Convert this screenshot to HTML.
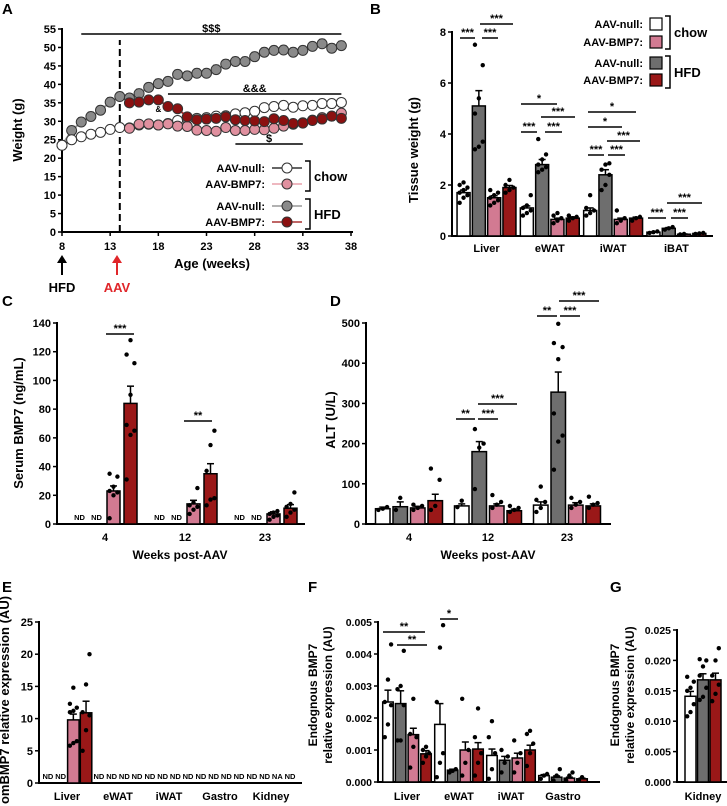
<!DOCTYPE html>
<html><head><meta charset="utf-8"><style>
body{margin:0;background:#fff;}
svg{display:block;font-family:"Liberation Sans",Arial,sans-serif;font-weight:bold;}
</style></head><body>
<svg id="fig" width="727" height="806" viewBox="0 0 727 806"></svg>
<script>
// ===== Panel A data =====
const weeksA = [8,9,10,11,12,13,14,15,16,17,18,19,20,21,22,23,24,25,26,27,28,29,30,31,32,33,34,35,36,37];
const chowNullA = [23.5,25,25.8,26.5,27,27.8,28.3,28.2,29,29.2,29,29.4,30.2,30.7,30.8,31,31.4,31.5,32,32.3,32.7,33.7,34,34.3,33.8,34.2,34.3,34.8,34.8,35.1];
const hfdNullA = [23.5,27.5,29.8,31.3,33,35.2,36.7,36.3,37.5,39.2,40.2,40.8,42.7,42.3,43,43,44,45.5,46.2,46.2,47.5,48.7,49.2,49.3,48.7,49.2,50.3,51,49.8,50.5];
const weeksAAV = [15,16,17,18,19,20,21,22,23,24,25,26,27,28,29,30,31,32,33,34,35,36,37];
const chowBmpA = [28.1,29.2,29.3,29,29.3,28.7,28.6,27.6,27.5,27.3,28.3,27.5,27.5,27.8,27.7,28.1,28.7,29.2,29.6,30.3,31,31.4,32.2];
const hfdBmpA = [35,35.2,35.8,35.8,34,33.4,31.2,30.4,30.6,30.8,31.2,30.4,30.2,30.1,29.9,30.7,30.2,29.4,29.5,30.2,30.6,31.4,30.8];
const yTicksA = [0,5,10,15,20,25,30,35,40,45,50,55];
const xTicksA = [8,13,18,23,28,33,38];
// ===== Panel B data =====
const tissuesB = ["Liver","eWAT","iWAT","iBAT"];
const meansB = [[1.7,5.1,1.5,1.9],[1.1,2.8,0.65,0.7],[1.0,2.4,0.65,0.7],[0.15,0.3,0.07,0.1]];
const errB = [[0.1,0.6,0.08,0.08],[0.08,0.2,0.05,0.05],[0.1,0.2,0.05,0.04],[0.01,0.03,0.01,0.01]];
const dotsB = [[[1.3,1.5,1.6,1.7,1.8,1.9,2.0,2.1],[3.4,3.5,3.7,4.8,5.4,6.7,7.5],[1.2,1.3,1.4,1.5,1.6,1.7,1.8],[1.7,1.8,1.9,2.0,2.2]],
 [[0.8,0.9,1.0,1.1,1.2,1.6],[2.5,2.6,2.7,2.8,3.0,3.2,3.8],[0.5,0.6,0.7,0.8,0.9],[0.6,0.7,0.75,0.8]],
 [[0.8,0.9,1.0,1.1,1.6],[1.8,2.0,2.4,2.6,2.8,2.85],[0.5,0.6,0.7,1.0],[0.6,0.7,0.75]],
 [[0.12,0.15,0.18],[0.25,0.3,0.35],[0.06,0.08],[0.08,0.1,0.12]]];
const yTicksB = [0,2,4,6,8];
// ===== Panel C data =====
const weeksC = ["4","12","23"];
const meansC = [["ND","ND",23,84],["ND","ND",14,35],["ND","ND",7,11]];
const errC = [[0,0,3.5,12],[0,0,2.5,7],[0,0,1.5,2.5]];
const dotsC = [[[],[],[4,20,22,23,26,33,35],[31,62,65,69,90,112,118,128]],
 [[],[],[7,10,12,13,15,25],[13,17,18,37,55,65]],
 [[],[],[3,5,6,7,8,9],[5,8,10,12,14,22]]];
const yTicksC = [0,20,40,60,80,100,120,140];
// ===== Panel D data =====
const weeksD = ["4","12","23"];
const meansD = [[38,43,40,58],[45,180,45,33],[47,328,47,45]];
const errD = [[4,12,4,16],[5,25,5,4],[8,50,6,5]];
const dotsD = [[[35,38,42],[35,65],[35,40,45,48],[35,45,110,138]],
 [[42,58],[87,190,200,236],[40,48,55,72],[30,35,40,45]],
 [[30,40,55,60,93],[135,205,220,275,410,440,450,498],[40,48,55,65],[40,48,52,68]]];
const yTicksD = [0,100,200,300,400,500];
// ===== Panel E data =====
const tissuesE = ["Liver","eWAT","iWAT","Gastro","Kidney"];
const meansE = [["ND","ND",9.8,10.9],["ND","ND","ND","ND"],["ND","ND","ND","ND"],["ND","ND","ND","ND"],["ND","ND","NA","ND"]];
const errE = [[0,0,0.9,1.8],[0,0,0,0],[0,0,0,0],[0,0,0,0],[0,0,0,0]];
const dotsE = [[[],[],[5.8,6.2,6.5,11,11.2,11.7,12.3,14.8],[5,8.2,10.5,11,15.3,20]],[[],[],[],[]],[[],[],[],[]],[[],[],[],[]],[[],[],[],[]]];
const yTicksE = [0,5,10,15,20,25];
// ===== Panel F data =====
const tissuesF = ["Liver","eWAT","iWAT","Gastro"];
const meansF = [[0.0025,0.00245,0.00148,0.00088],[0.0018,0.00037,0.001,0.00103],[0.00083,0.00068,0.00075,0.001],[0.0002,0.00015,0.00012,0.0001]];
const errF = [[0.00037,0.0004,0.0002,0.0001],[0.00065,0.00003,0.00025,0.0002],[0.0002,0.00012,0.00015,0.00015],[0.00003,0.00004,0.00003,0.00002]];
const dotsF = [[[0.0014,0.0018,0.0024,0.0025,0.0032,0.0043],[0.0013,0.0013,0.0024,0.0029,0.003,0.0041],[0.00045,0.0011,0.0014,0.0015,0.0026],[0.0006,0.0008,0.0009,0.001,0.0011]],
 [[0.00015,0.0006,0.0009,0.0025,0.0042,0.0049],[0.0003,0.00035,0.0004],[0.0002,0.0006,0.001,0.0026],[0.0002,0.0006,0.0009,0.0014,0.0023]],
 [[0.0001,0.0004,0.0009,0.0014,0.0019],[0.0003,0.0006,0.0008,0.001],[0.0003,0.0006,0.0009,0.0013],[0.0005,0.0009,0.0012,0.0015,0.0016]],
 [[0.0001,0.0002,0.00025],[0.00005,0.0002,0.0004],[0.00005,0.0002,0.0003],[0.00005,0.00015]]];
const yTicksF = [0,0.001,0.002,0.003,0.004,0.005];
// ===== Panel G data =====
const tissuesG = ["Kidney"];
const meansG = [[0.0141,0.0168,0.0168]];
const errG = [[0.0008,0.001,0.0011]];
const dotsG = [[[0.0108,0.0115,0.0128,0.015,0.0155,0.0165,0.0173],[0.0135,0.014,0.0155,0.0175,0.019,0.02,0.0202],[0.0133,0.0145,0.016,0.0175,0.02,0.022]]];
const yTicksG = [0,0.005,0.010,0.015,0.020,0.025];

const NS="http://www.w3.org/2000/svg";
const svg=document.getElementById('fig');
function mk(tag,parent){const e=document.createElementNS(NS,tag);(parent||svg).appendChild(e);return e;}
function setA(e,o){for(const k in o)e.setAttribute(k,o[k]);return e;}
function line(x1,y1,x2,y2,stroke,w,name,parent){const e=mk('line',parent);setA(e,{x1:x1,y1:y1,x2:x2,y2:y2,stroke:stroke,'stroke-width':w});


return e;}
function text(x,y,s,size,anchor,name,fill,parent){const e=mk('text',parent);setA(e,{x:x,y:y,'font-size':size,'text-anchor':anchor||'middle',fill:fill||'#000'});e.textContent=s;


return e;}
function vtext(x,y,s,size,name){const e=text(x,y,s,size,'middle',name);e.setAttribute('transform','rotate(-90 '+x+' '+y+')');return e;}
const COLS=['#ffffff','#6e6e6e','#d27a92','#9a1818'];

function barPanel(P){
  const g=mk('g');
  
  
  const ys=v=>P.y0-(v/P.ymax)*(P.y0-P.yTop);
  line(P.ax,P.yTop-1,P.ax,P.y0+1,'#000',2,'y-axis',g);
  line(P.ax,P.y0,P.xEnd,P.y0,'#000',2,'x-axis',g);
  P.yticks.forEach((t,i)=>{const y=ys(t);line(P.ax-4,y,P.ax,y,'#000',1.5,'y-tick',g);
    text(P.ax-6,y+4,P.tickLabels?P.tickLabels[i]:String(t),P.fs||11,'end','y-tick-label','#000',g);});
  P.cats.forEach((c,gi)=>{
    const cx=P.c0+gi*P.cStep;
    text(cx,P.labY,c,P.catFs||11,'middle','category-label','#000',g);
    P.means[gi].forEach((m,bi)=>{
      const col=P.cols[bi];
      const left=cx-(P.nb*P.step-(P.step-P.bw))/2+bi*P.step;
      const bc=left+P.bw/2;
      if(typeof m==='string'){text(bc,P.y0-4,m,7.5,'middle','nd-label','#000',g);return;}
      const y=ys(m);
      const e=P.errs[gi][bi];
      line(bc,y,bc,ys(m+e),'#000',1.5,'error-bar',g);
      line(bc-3.5,ys(m+e),bc+3.5,ys(m+e),'#000',1.5,'error-cap',g);
      const r=mk('rect',g);setA(r,{x:left,y:y,width:P.bw,height:P.y0-y,fill:col,stroke:'#000','stroke-width':1.5});
      
      
      const ds=P.dots[gi][bi];
      ds.forEach((d,di)=>{const o=((di%3)-1)*P.bw*0.3;const ci=mk('circle',g);setA(ci,{cx:bc+o,cy:ys(d),r:2.2,fill:'#000'});
        
        });
    });
  });
}
function sig(x1,x2,y,s,name){line(x1,y,x2,y,'#000',1.5,name+'-line');text((x1+x2)/2,y-2,s,11,'middle',name+'-label');}
function letter(x,y,s){text(x,y,s,15,'start','panel-label-'+s);}

// ===== Panel A =====
letter(2,14,'A');
(function(){
  const ax=62,x1=351,y0=232,yT=29;
  const xs=w=>ax+(w-8)/30*(x1-ax), ys=v=>y0-v/55*(y0-yT);
  line(ax,yT-1,ax,y0+1,'#000',2,'y-axis');line(ax,y0,x1+2,y0,'#000',2,'x-axis');
  yTicksA.forEach(t=>{line(ax-4,ys(t),ax,ys(t),'#000',1.5,'y-tick');text(ax-6,ys(t)+4,String(t),11,'end','y-tick-label');});
  xTicksA.forEach(t=>{line(xs(t),y0,xs(t),y0+4,'#000',1.5,'x-tick');text(xs(t),y0+18,String(t),11,'middle','x-tick-label');});
  vtext(22,130,'Weight (g)',13,'y-axis-title');
  text(212,268,'Age (weeks)',13,'middle','x-axis-title');
  const dl=line(xs(14),y0,xs(14),40,'#000',2,'aav-dashed-line');dl.setAttribute('stroke-dasharray','7,4');
  sig(xs(10),xs(37),34,'$$$','sig-hfd');sig(xs(19),xs(37),94,'&&&','sig-amp');sig(xs(26),xs(33),144,'$','sig-dollar');
  text(xs(18),112,'&',8,'middle','sig-amp-small');text(xs(32),125,'$',8,'middle','sig-d1');text(xs(33),125,'$',8,'middle','sig-d2');
  function series(wk,vals,fill,lc,err,name){
    const pts=wk.map((w,i)=>xs(w)+','+ys(vals[i])).join(' ');
    const pl=mk('polyline');setA(pl,{points:pts,fill:'none',stroke:lc,'stroke-width':2});
    
    
    wk.forEach((w,i)=>{line(xs(w),ys(vals[i]),xs(w),ys(vals[i]+err),'#555',1,name+'-err');line(xs(w)-3,ys(vals[i]+err),xs(w)+3,ys(vals[i]+err),'#555',1,name+'-err-cap');});
    wk.forEach((w,i)=>{const c=mk('circle');setA(c,{cx:xs(w),cy:ys(vals[i]),r:5,fill:fill,stroke:'#333','stroke-width':1});
      
      });
  }
  series(weeksA,hfdNullA,'#8a8a8a','#999',1.2,'hfd-null');
  series(weeksA,chowNullA,'#fff','#333',0.7,'chow-null');
  series(weeksAAV,chowBmpA,'#e0909f','#e8a0ac',0.6,'chow-bmp7');
  series(weeksAAV,hfdBmpA,'#8b1010','#a33',0.8,'hfd-bmp7');
  // legend
  const L=[['AAV-null:','#fff','#333',168],['AAV-BMP7:','#e0909f','#e8a0ac',184],['AAV-null:','#8a8a8a','#999',206],['AAV-BMP7:','#8b1010','#a33',222]];
  L.forEach(l=>{text(265,l[3]+4,l[0],11,'end','legend-label');line(272,l[3],302,l[3],l[2],1.5,'legend-line');
    const c=mk('circle');setA(c,{cx:287,cy:l[3],r:5,fill:l[1],stroke:'#333','stroke-width':1});
    
    });
  const b1=mk('path');setA(b1,{d:'M305,161 H310 V191 H305',fill:'none',stroke:'#000','stroke-width':1.5});
  const b2=mk('path');setA(b2,{d:'M305,199 H310 V229 H305',fill:'none',stroke:'#000','stroke-width':1.5});
  text(314,181,'chow',13,'start','legend-group-chow');text(314,219,'HFD',13,'start','legend-group-hfd');
  // arrows
  line(62,275,62,261,'#000',2,'hfd-arrow');const a1=mk('path');setA(a1,{d:'M57,263 L62,255 L67,263 Z',fill:'#000'});
  text(62,292,'HFD',13,'middle','hfd-label');
  line(117,275,117,261,'#e0262a',2,'aav-arrow');const a2=mk('path');setA(a2,{d:'M112,263 L117,255 L122,263 Z',fill:'#e0262a'});
  text(117,292,'AAV',13,'middle','aav-label','#e0262a');
})();

// ===== Panel B =====
letter(370,14,'B');
barPanel({name:'panel-b',ax:452,y0:236,yTop:32,ymax:8,xEnd:713,yticks:yTicksB,cats:tissuesB,c0:486.5,cStep:63.3,nb:4,bw:13,step:15.3,
  means:meansB,errs:errB,dots:dotsB,cols:COLS,labY:252,catFs:11});
vtext(418,150,'Tissue weight (g)',13,'y-axis-title');
sig(460,475,38,'***','sig-b1');sig(482,498,38,'***','sig-b2');sig(480,513,24,'***','sig-b3');
sig(521,557,104,'*','sig-b4');sig(541,575,117,'***','sig-b5');sig(521,537,132,'***','sig-b6');sig(545,562,132,'***','sig-b7');
sig(588,636,112,'*','sig-b8');sig(588,622,127,'*','sig-b9');sig(607,640,141,'***','sig-b10');sig(588,604,155,'***','sig-b11');sig(608,625,155,'***','sig-b12');
sig(648,666,218,'***','sig-b13');sig(671,688,218,'***','sig-b14');sig(667,702,203,'***','sig-b15');
[['AAV-null:',24],['AAV-BMP7:',42],['AAV-null:',63],['AAV-BMP7:',80]].forEach((l,i)=>{text(643,l[1]+4,l[0],11,'end','legend-label');
  const r=mk('rect');setA(r,{x:650,y:l[1]-6,width:12,height:12,fill:COLS[[0,2,1,3][i]],stroke:'#000','stroke-width':1.2});
  
  });
(function(){const b1=mk('path');setA(b1,{d:'M665,16 H670 V49 H665',fill:'none',stroke:'#000','stroke-width':1.5});
const b2=mk('path');setA(b2,{d:'M665,56 H670 V88 H665',fill:'none',stroke:'#000','stroke-width':1.5});})();
text(674,37,'chow',13,'start','legend-group-chow');text(674,77,'HFD',13,'start','legend-group-hfd');

// ===== Panel C =====
letter(2,306,'C');
barPanel({name:'panel-c',ax:57,y0:524,yTop:323,ymax:140,xEnd:305,yticks:yTicksC,cats:weeksC,c0:105,cStep:80,nb:4,bw:13,step:17,
  means:meansC,errs:errC,dots:dotsC,cols:COLS,labY:541});
vtext(23,423,'Serum BMP7 (ng/mL)',13,'y-axis-title');
text(180,559,'Weeks post-AAV',12,'middle','x-axis-title');
sig(106,134,334,'***','sig-c1');sig(184,212,421,'**','sig-c2');

// ===== Panel D =====
letter(330,306,'D');
barPanel({name:'panel-d',ax:366,y0:524,yTop:323,ymax:500,xEnd:611,yticks:yTicksD,cats:weeksD,c0:409,cStep:79,nb:4,bw:14.5,step:17.5,
  means:meansD,errs:errD,dots:dotsD,cols:COLS,labY:541});
vtext(335,420,'ALT (U/L)',13,'y-axis-title');
text(488,559,'Weeks post-AAV',12,'middle','x-axis-title');
sig(456,475,419,'**','sig-d1');sig(478,498,419,'***','sig-d2');sig(478,517,404,'***','sig-d3');
sig(537,557,316,'**','sig-d4');sig(560,580,316,'***','sig-d5');sig(559,599,301,'***','sig-d6');

// ===== Panel E =====
letter(2,592,'E');
barPanel({name:'panel-e',ax:39,y0:783,yTop:622,ymax:25,xEnd:302,yticks:yTicksE,cats:tissuesE,c0:67,cStep:51,nb:4,bw:11.5,step:12.7,
  means:meansE,errs:errE,dots:dotsE,cols:COLS,labY:800,catFs:11});
vtext(9,700,'omBMP7 relative expression (AU)',13,'y-axis-title');

// ===== Panel F =====
letter(308,592,'F');
barPanel({name:'panel-f',ax:378,y0:782,yTop:622,ymax:0.005,xEnd:600,yticks:yTicksF,tickLabels:['0.000','0.001','0.002','0.003','0.004','0.005'],cats:tissuesF,c0:407,cStep:52,nb:4,bw:10.5,step:12.7,
  means:meansF,errs:errF,dots:dotsF,cols:COLS,labY:800,fs:10.5});
vtext(317,695,'Endognous BMP7',12,'y-axis-title-1');vtext(332,695,'relative expression (AU)',12,'y-axis-title-2');
sig(383,425,632,'**','sig-f1');sig(397,427,645,'**','sig-f2');sig(440,458,619,'*','sig-f3');

// ===== Panel G =====
letter(610,592,'G');
barPanel({name:'panel-g',ax:677,y0:782,yTop:630,ymax:0.025,xEnd:727,yticks:yTicksG,tickLabels:['0.000','0.005','0.010','0.015','0.020','0.025'],cats:tissuesG,c0:703,cStep:0,nb:3,bw:11,step:12.5,
  means:meansG,errs:errG,dots:dotsG,cols:[COLS[0],COLS[1],COLS[3]],labY:800,fs:10.5});
vtext(619,695,'Endognous BMP7',12,'y-axis-title-1');vtext(634,695,'relative expression (AU)',12,'y-axis-title-2');
</script>
</body></html>
